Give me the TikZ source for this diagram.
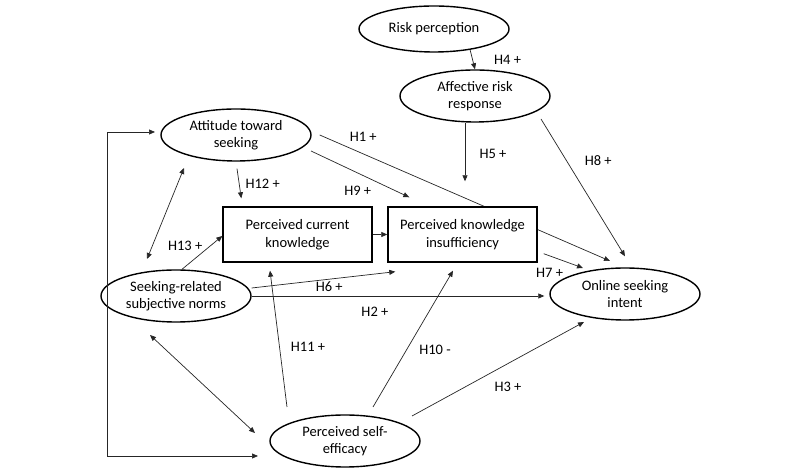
\documentclass[tikz,border=0pt]{standalone}
\usepackage{fontspec}
\setmainfont{Carlito}
\usetikzlibrary{positioning,shapes.geometric,arrows.meta,backgrounds}

\tikzset{
    construct/.style={ellipse, draw, line width=1.4pt, fill=white, minimum width=150pt,
        minimum height=52pt, inner sep=0pt, align=center},
    measure/.style={rectangle, draw, line width=1.4pt, fill=white, minimum width=149pt,
        minimum height=55pt, inner sep=0pt, align=center},
    link/.style={-{Triangle[length=6pt,width=5pt]}, line width=0.7pt, draw=black!85},
    twoway/.style={{Triangle[length=6pt,width=5pt]}-{Triangle[length=6pt,width=5pt]}, line width=0.7pt, draw=black!85},
    hyp/.style={inner sep=0pt}
}

\begin{document}
\begin{tikzpicture}[on grid, font=\fontsize{14.5}{17.5}\selectfont]
                \useasboundingbox (0,0) rectangle (800pt,470pt);

                \node[construct] (att) at (236pt,335pt) {Attitude toward\\seeking};
                \node[construct, below left=161pt and 60pt of att] (norms) {Seeking-related\\subjective norms};
                \node[construct, below right=145pt and 169pt of norms] (eff) {Perceived self-\\efficacy};
                \node[measure, below right=99.5pt and 61.5pt of att] (know) {Perceived current\\knowledge};
                \node[measure, right=165pt of know] (insuf) {Perceived knowledge\\insufficiency};
                \node[construct, above right=138.5pt and 12.5pt of insuf] (aff) {Affective risk\\response};
                \node[construct, minimum height=46pt, above left=67pt and 41pt of aff] (risk) {Risk perception};
                \node[construct, below right=59.5pt and 162.5pt of insuf] (intent) {Online seeking\\intent};
                \coordinate[below left=15pt and 238pt of eff] (corner);

                % H1 runs behind the insufficiency box
                \begin{scope}[on background layer]
                    \draw[link] ([xshift=8pt]att.east) -- node[hyp, pos=.15, yshift=17pt] {H1 +} ([shift={(-15pt,33pt)}]intent.center);
                \end{scope}

                \draw[link] (risk.-30) -- node[hyp, midway, xshift=35pt] {H4 +} (aff.north);
                \draw[link] ([xshift=-10pt]aff.south) -- node[hyp, midway, xshift=28pt, yshift=-2pt] {H5 +} ([shift={(2.5pt,25pt)}]insuf.north);
                \draw[link] ([shift={(66pt,-23pt)}]aff.center) -- node[hyp, pos=.3, xshift=32pt] {H8 +} ([yshift=11pt]intent.north);
                \draw[link] ([shift={(75pt,-16pt)}]att.center) -- node[hyp, pos=.475, yshift=-17.5pt] {H9 +} ([shift={(22pt,9pt)}]insuf.north west);
                \draw[link] ([shift={(1pt,-7pt)}]att.south) -- node[hyp, midway, xshift=23.5pt] {H12 +} ([shift={(19pt,8pt)}]know.north west);
                \draw[twoway] ([shift={(-52pt,-33pt)}]att.center) -- ([shift={(-29pt,37pt)}]norms.center);
                \draw[link] ([xshift=6pt]norms.north) -- node[hyp, midway, xshift=-17pt, yshift=6.5pt] {H13 +} ([yshift=-1.5pt]know.west);
                \draw[link] (know.east) -- (insuf.west);
                \draw[link] ([yshift=8pt]norms.east) -- node[hyp, pos=.54, yshift=-7pt] {H6 +} ([shift={(8pt,-9pt)}]insuf.south west);
                \draw[link, shorten >=5pt] (norms.east) -- node[hyp, pos=.414, yshift=-16pt] {H2 +} (norms.east -| intent.west);
                \draw[link] ([shift={(6pt,9pt)}]insuf.south east) -- node[hyp, pos=.15, yshift=-16.7pt] {H7 +} ([shift={(-42pt,26pt)}]intent.center);
                \draw[link] ([shift={(-58pt,34pt)}]eff.center) -- node[hyp, pos=.445, xshift=28.6pt] {H11 +} ([shift={(-27.5pt,-8pt)}]know.south);
                \draw[link] ([shift={(28pt,34pt)}]eff.center) -- node[hyp, pos=.416, xshift=28.7pt] {H10 -} ([shift={(-9.5pt,-8pt)}]insuf.south);
                \draw[link] ([shift={(67pt,25pt)}]eff.center) -- node[hyp, pos=.558, yshift=-23.5pt] {H3 +} ([shift={(-41pt,-28pt)}]intent.center);
                \draw[twoway] ([shift={(-26pt,-39pt)}]norms.center) -- ([shift={(-90pt,8pt)}]eff.center);
                \draw[twoway] ([shift={(-81pt,3pt)}]att.center) -| (corner) -- ([shift={(-87pt,-15pt)}]eff.center);
\end{tikzpicture}
\end{document}
